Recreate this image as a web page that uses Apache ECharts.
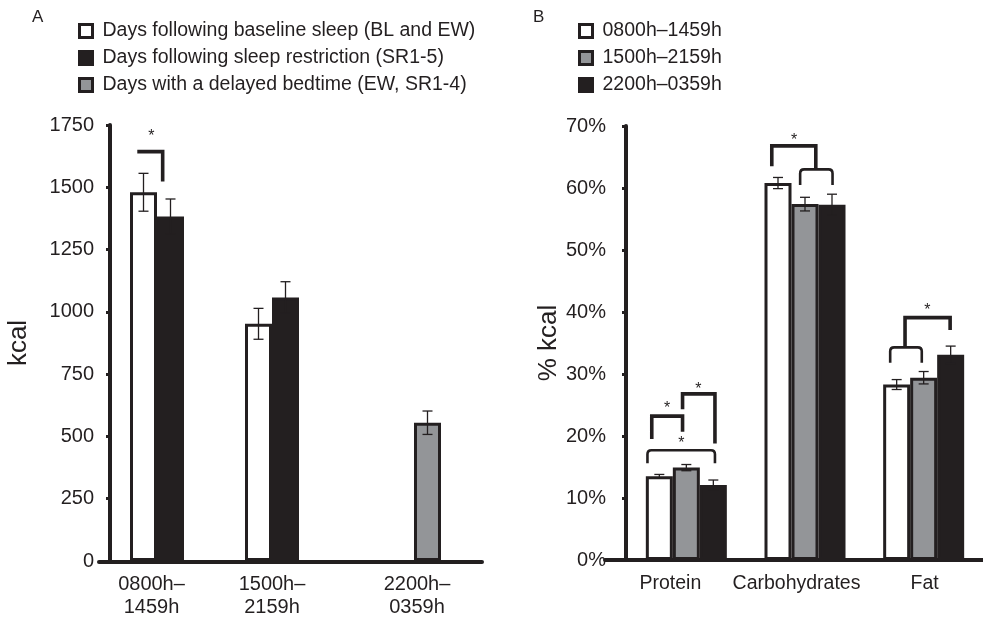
<!DOCTYPE html>
<html>
<head>
<meta charset="utf-8">
<script src="https://cdn.jsdelivr.net/npm/echarts@6/dist/echarts.min.js"></script>
<style>
html, body { margin: 0; padding: 0; background: #fff; }
#chart { width: 983px; height: 619px; }
</style>
</head>
<body>
<div id="chart"></div>
<script>
// panel A: kcal by time of day
var catsA = ['0800h–\n1459h', '1500h–\n2159h', '2200h–\n0359h'];
var namesA = ['Days following baseline sleep (BL and EW)', 'Days following sleep restriction (SR1-5)', 'Days with a delayed bedtime (EW, SR1-4)'];
var baselineKcal = [1480, 952, null];
var baselineErr = [76, 62, null];
var restrictKcal = [1383, 1058, null];
var restrictErr = [70, 63, null];
var delayedKcal = [null, null, 555];
var delayedErr = [null, null, 47];

// panel B: % kcal by macronutrient
var catsB = ['Protein', 'Carbohydrates', 'Fat'];
var namesB = ['0800h–1459h', '1500h–2159h', '2200h–0359h'];
var morningPct = [13.5, 60.8, 28.3];
var morningErr = [0.3, 0.9, 0.8];
var afternoonPct = [14.9, 57.4, 29.4];
var afternoonErr = [0.5, 1.1, 1.0];
var nightPct = [12.1, 57.3, 33.1];
var nightErr = [0.8, 1.7, 1.4];

// significance brackets: [category, left slot, right slot, top, left end, right end, rounded]
var bracketsA = [[0, -1.23, -0.29, 1643, 1643, 1523, 0]];
var starsA = [[0, -0.71, 1719]];
var bracketsB = [
  [0, -1.28, -0.14, 23.2, 19.5, 20.7, 0],
  [0, -0.14, 1.06, 26.8, 24.3, 18.8, 0],
  [0, -1.44, 1.06, 17.7, 15.6, 15.6, 1],
  [1, -1.23, 0.40, 66.8, 63.5, 63.0, 0],
  [1, -0.18, 1.02, 63.0, 60.5, 60.5, 1],
  [2, -0.69, 0.98, 39.1, 34.3, 37.1, 0],
  [2, -1.24, -0.07, 34.3, 31.8, 31.8, 1]
];
var starsB = [[0, -0.71, 25.0], [0, 0.45, 28.2], [0, -0.18, 19.5], [1, -0.4, 68.3], [2, 0.14, 40.8]];

var DARK = '#231f20';
var GRAY = '#939598';
var FONT = '"Liberation Sans", Arial, sans-serif';
var BW = 27;
var labelShiftA = [-19, -13.5, 16.5];
var labelShiftB = [-16, -8.5, 1];

function errData(vals, errs) {
  var out = [];
  for (var i = 0; i < vals.length; i++) {
    if (vals[i] != null) out.push([i, vals[i], errs[i]]);
  }
  return out;
}

function shiftedLabels(cats, shifts) {
  return cats.map(function (c, i) {
    var d = shifts[i];
    return { value: c, textStyle: { padding: d < 0 ? [0, -2 * d, 0, 0] : [0, 0, 0, 2 * d] } };
  });
}

function errorSeries(data, slot, xi) {
  return {
    type: 'custom', xAxisIndex: xi, yAxisIndex: xi, z: 5,
    encode: { x: 0, y: 1 },
    data: data,
    renderItem: function (params, api) {
      var i = api.value(0), m = api.value(1), e = api.value(2);
      var x = api.coord([i, m])[0] + slot * BW;
      var hi = api.coord([i, m + e])[1];
      var lo = api.coord([i, m - e])[1];
      var s = { stroke: DARK, lineWidth: 1.3 };
      return { type: 'group', children: [
        { type: 'line', shape: { x1: x, y1: hi, x2: x, y2: lo }, style: s },
        { type: 'line', shape: { x1: x - 5, y1: hi, x2: x + 5, y2: hi }, style: s },
        { type: 'line', shape: { x1: x - 5, y1: lo, x2: x + 5, y2: lo }, style: s }
      ] };
    }
  };
}

function bracketSeries(data, xi) {
  return {
    type: 'custom', xAxisIndex: xi, yAxisIndex: xi, z: 6,
    encode: { x: 0, y: 3 },
    data: data,
    renderItem: function (params, api) {
      var c = api.coord([api.value(0), api.value(3)]);
      var x1 = c[0] + api.value(1) * BW;
      var x2 = c[0] + api.value(2) * BW;
      var yt = c[1];
      var yl = api.coord([api.value(0), api.value(4)])[1];
      var yr = api.coord([api.value(0), api.value(5)])[1];
      if (api.value(6)) {
        var r = 4;
        var p = 'M' + x1 + ' ' + yl + 'L' + x1 + ' ' + (yt + r) + 'Q' + x1 + ' ' + yt + ' ' + (x1 + r) + ' ' + yt +
          'L' + (x2 - r) + ' ' + yt + 'Q' + x2 + ' ' + yt + ' ' + x2 + ' ' + (yt + r) + 'L' + x2 + ' ' + yr;
        return { type: 'path', shape: { pathData: p }, style: { fill: 'none', stroke: DARK, lineWidth: 2.6 } };
      }
      return {
        type: 'polyline',
        shape: { points: [[x1, yl], [x1, yt], [x2, yt], [x2, yr]] },
        style: { fill: 'none', stroke: DARK, lineWidth: 3.6 }
      };
    }
  };
}

function starSeries(data, xi) {
  return {
    type: 'custom', xAxisIndex: xi, yAxisIndex: xi, z: 6,
    encode: { x: 0, y: 2 },
    data: data,
    renderItem: function (params, api) {
      var c = api.coord([api.value(0), api.value(2)]);
      return {
        type: 'text',
        style: { text: '*', x: c[0] + api.value(1) * BW, y: c[1] + 4, align: 'center', verticalAlign: 'middle',
          fill: DARK, font: '16px ' + FONT }
      };
    }
  };
}

function barSeries(name, data, color, xi) {
  return {
    name: name, type: 'bar', xAxisIndex: xi, yAxisIndex: xi, data: data,
    barWidth: BW, barGap: '0%',
    itemStyle: { color: color, borderColor: DARK, borderWidth: 3 }
  };
}

function legendData(names, colors) {
  return names.map(function (n, i) {
    return { name: n, itemStyle: { color: colors[i], borderColor: DARK, borderWidth: 3 } };
  });
}

var legendCommon = {
  orient: 'vertical', itemWidth: 13, itemHeight: 13, itemGap: 7, icon: 'rect', selectedMode: false,
  textStyle: { fontSize: 19.5, color: DARK, fontFamily: FONT, lineHeight: 20, padding: [0, 0, 0, 5] }
};

var hiddenFrame = function (gi) {
  return {
    gridIndex: gi, type: 'value', min: 0, max: 1,
    axisLine: { onZero: false, lineStyle: { color: DARK, width: 4 } },
    axisTick: { show: false }, axisLabel: { show: false }, splitLine: { show: false }
  };
};

var chart = echarts.init(document.getElementById('chart'));
chart.setOption({
  animation: false,
  backgroundColor: '#fff',
  title: [
    { text: 'A', left: 27, top: 4, textStyle: { fontSize: 17, fontWeight: 'normal', color: DARK, fontFamily: FONT } },
    { text: 'B', left: 528, top: 4, textStyle: { fontSize: 17, fontWeight: 'normal', color: DARK, fontFamily: FONT } }
  ],
  legend: [
    Object.assign({}, legendCommon, { left: 73, top: 16, data: legendData(namesA, ['#fff', DARK, GRAY]) }),
    Object.assign({}, legendCommon, { left: 573, top: 16, data: legendData(namesB, ['#fff', GRAY, DARK]) })
  ],
  grid: [
    { left: 113, top: 125, width: 345, height: 437 },
    { left: 627, top: 126, width: 361, height: 434 },
    { left: 99, top: 125, width: 383, height: 437 },
    { left: 605, top: 126, width: 380, height: 434 }
  ],
  xAxis: [
    {
      gridIndex: 0, type: 'category', data: shiftedLabels(catsA, labelShiftA),
      axisLine: { show: false }, axisTick: { show: false },
      axisLabel: { interval: 0, margin: 12, fontSize: 20, lineHeight: 23, color: DARK, fontFamily: FONT }
    },
    {
      gridIndex: 1, type: 'category', data: shiftedLabels(catsB, labelShiftB),
      axisLine: { show: false }, axisTick: { show: false },
      axisLabel: { interval: 0, margin: 14, fontSize: 19.5, color: DARK, fontFamily: FONT }
    },
    hiddenFrame(2),
    hiddenFrame(3)
  ],
  yAxis: [
    {
      gridIndex: 0, type: 'value', min: 0, max: 1750, interval: 250, offset: 3,
      name: 'kcal', nameLocation: 'middle', nameGap: 78,
      nameTextStyle: { fontSize: 26, color: DARK, fontFamily: FONT },
      axisLine: { show: true, lineStyle: { color: DARK, width: 4 } },
      axisTick: { show: true, length: 4, lineStyle: { color: DARK, width: 3 } },
      axisLabel: { margin: 16, fontSize: 20, color: DARK, fontFamily: FONT, formatter: function (v) { return String(v); } },
      splitLine: { show: false }
    },
    {
      gridIndex: 1, type: 'value', min: 0, max: 70, interval: 10, offset: 1,
      name: '% kcal', nameLocation: 'middle', nameGap: 64,
      nameTextStyle: { fontSize: 26, color: DARK, fontFamily: FONT },
      axisLine: { show: true, lineStyle: { color: DARK, width: 4 } },
      axisTick: { show: true, length: 4, lineStyle: { color: DARK, width: 3 } },
      axisLabel: { margin: 20, fontSize: 20, color: DARK, fontFamily: FONT, formatter: '{value}%' },
      splitLine: { show: false }
    },
    { gridIndex: 2, type: 'value', min: 0, max: 1, show: false },
    { gridIndex: 3, type: 'value', min: 0, max: 1, show: false }
  ],
  series: [
    barSeries(namesA[0], baselineKcal, '#fff', 0),
    barSeries(namesA[1], restrictKcal, DARK, 0),
    barSeries(namesA[2], delayedKcal, GRAY, 0),
    errorSeries(errData(baselineKcal, baselineErr), -1, 0),
    errorSeries(errData(restrictKcal, restrictErr), 0, 0),
    errorSeries(errData(delayedKcal, delayedErr), 1, 0),
    bracketSeries(bracketsA, 0),
    starSeries(starsA, 0),

    barSeries(namesB[0], morningPct, '#fff', 1),
    barSeries(namesB[1], afternoonPct, GRAY, 1),
    barSeries(namesB[2], nightPct, DARK, 1),
    errorSeries(errData(morningPct, morningErr), -1, 1),
    errorSeries(errData(afternoonPct, afternoonErr), 0, 1),
    errorSeries(errData(nightPct, nightErr), 1, 1),
    bracketSeries(bracketsB, 1),
    starSeries(starsB, 1)
  ]
});
</script>
</body>
</html>
